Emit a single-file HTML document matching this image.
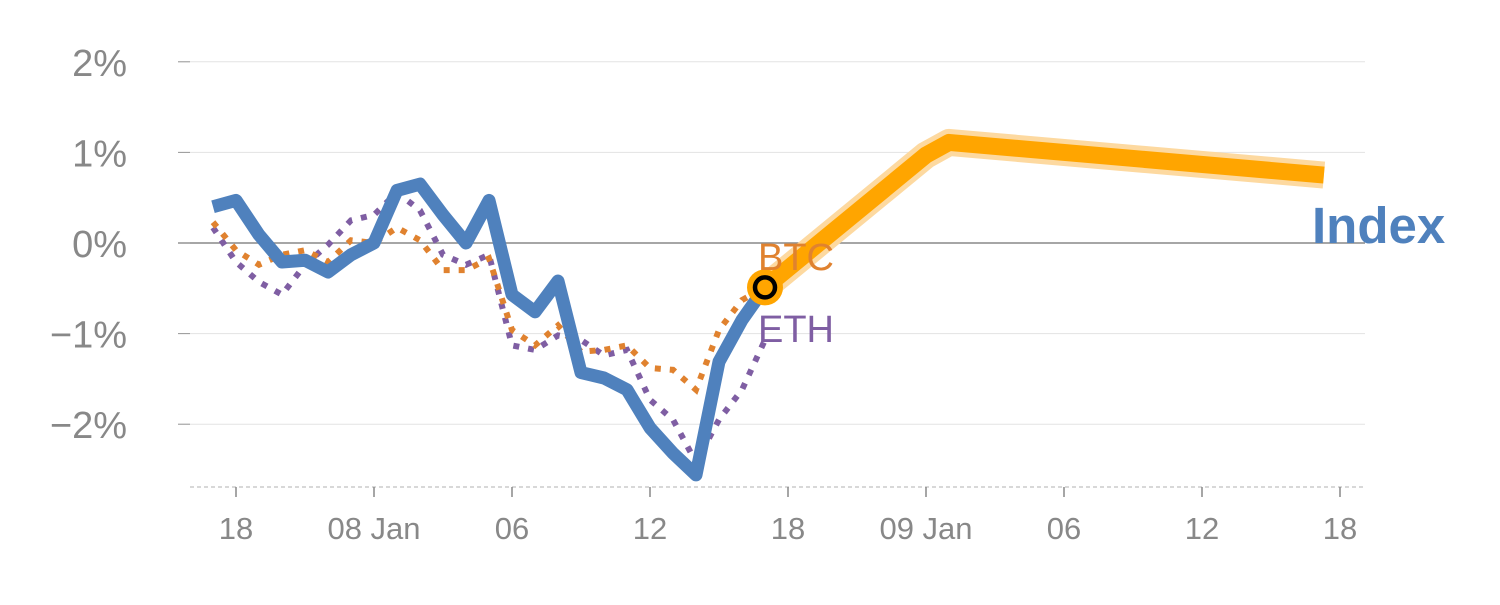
<!DOCTYPE html>
<html><head><meta charset="utf-8"><style>
body{margin:0;background:#fff}
svg text{font-family:"Liberation Sans",sans-serif}
</style></head><body>
<svg id="c" width="1500" height="600" viewBox="0 0 1500 600"></svg>
<script>
const yTicks=[2,1,0,-1,-2];
const yTickLabels=["2%","1%","0%","\u22121%","\u22122%"];
const xTickHours=[1,7,13,19,25,31,37,43,49];
const xTickLabels=["18","08 Jan","06","12","18","09 Jan","06","12","18"];
const indexVals=[0.40,0.47,0.09,-0.21,-0.19,-0.32,-0.13,0,0.58,0.65,0.31,0,0.47,-0.57,-0.76,-0.42,-1.43,-1.49,-1.62,-2.04,-2.32,-2.56,-1.31,-0.85,-0.49];
const btcVals=[0.23,-0.08,-0.24,-0.13,-0.08,-0.21,0.03,0,0.17,0.03,-0.30,-0.30,-0.17,-0.96,-1.13,-0.91,-1.20,-1.18,-1.13,-1.38,-1.40,-1.62,-0.96,-0.63,-0.49];
const ethVals=[0.17,-0.21,-0.43,-0.57,-0.24,-0.02,0.25,0.31,0.56,0.36,-0.13,-0.24,-0.13,-1.13,-1.18,-1.02,-1.07,-1.24,-1.18,-1.73,-1.95,-2.42,-1.95,-1.62,-1.07];
const forecastHours=[24,31,32,48.3];
const forecastVals=[-0.49,0.97,1.11,0.75];

const NS="http://www.w3.org/2000/svg";
const svg=document.getElementById('c');
const x=h=>213+23*h;
const y=v=>243-90.6*v;
function el(t,a,p){const e=document.createElementNS(NS,t);for(const k in a)e.setAttribute(k,a[k]);(p||svg).appendChild(e);return e;}

yTicks.forEach((v,i)=>{
  const g=el('line',{x1:178,x2:1365,y1:y(v),y2:y(v),stroke:v===0?'#888':'#e3e3e3','stroke-width':v===0?1.5:1});
  
  
  el('line',{x1:178,x2:190,y1:y(v),y2:y(v),stroke:'#999','stroke-width':1});
  const t=el('text',{x:127,y:y(v)+14,'text-anchor':'end','font-size':38,fill:'#888'});
  t.textContent=yTickLabels[i];
  
  
});
const base=el('line',{x1:190,x2:1365,y1:487,y2:487,stroke:'#ccc','stroke-width':1.5,'stroke-dasharray':'4 3'});


xTickHours.forEach((h,i)=>{
  el('line',{x1:x(h),x2:x(h),y1:487,y2:497,stroke:'#888','stroke-width':1.5});
  const t=el('text',{x:x(h),y:539,'text-anchor':'middle','font-size':31,fill:'#888'});
  t.textContent=xTickLabels[i];
  
  
});
function pts(hs,vs){return vs.map((v,i)=>x(hs?hs[i]:i)+','+y(v)).join(' ');}
const eth=el('polyline',{points:pts(null,ethVals),fill:'none',stroke:'#7f5ea3','stroke-width':6,'stroke-dasharray':'6 9'});


const btc=el('polyline',{points:pts(null,btcVals),fill:'none',stroke:'#e0822f','stroke-width':6,'stroke-dasharray':'6 9'});


const idx=el('polyline',{points:pts(null,indexVals),fill:'none',stroke:'#4f81bd','stroke-width':13,'stroke-linejoin':'round'});


const fh=el('polyline',{points:pts(forecastHours,forecastVals),fill:'none',stroke:'#fdd9a0','stroke-width':27,'stroke-linejoin':'round'});


const fc=el('polyline',{points:pts(forecastHours,forecastVals),fill:'none',stroke:'#ffa500','stroke-width':17,'stroke-linejoin':'round'});


const mk=el('circle',{cx:x(24),cy:y(-0.49),r:18,fill:'#ffa500'});


el('circle',{cx:x(24),cy:y(-0.49),r:10,fill:'none',stroke:'#000','stroke-width':4.5});
const bl=el('text',{x:758,y:270,'font-size':38,fill:'#e0822f'});bl.textContent='BTC';


const eh=el('text',{x:758,y:342,'font-size':38,fill:'#7f5ea3'});eh.textContent='ETH';


const il=el('text',{x:1312,y:243,'font-size':51,'font-weight':'bold',fill:'#4f81bd'});il.textContent='Index';


</script>
</body></html>
